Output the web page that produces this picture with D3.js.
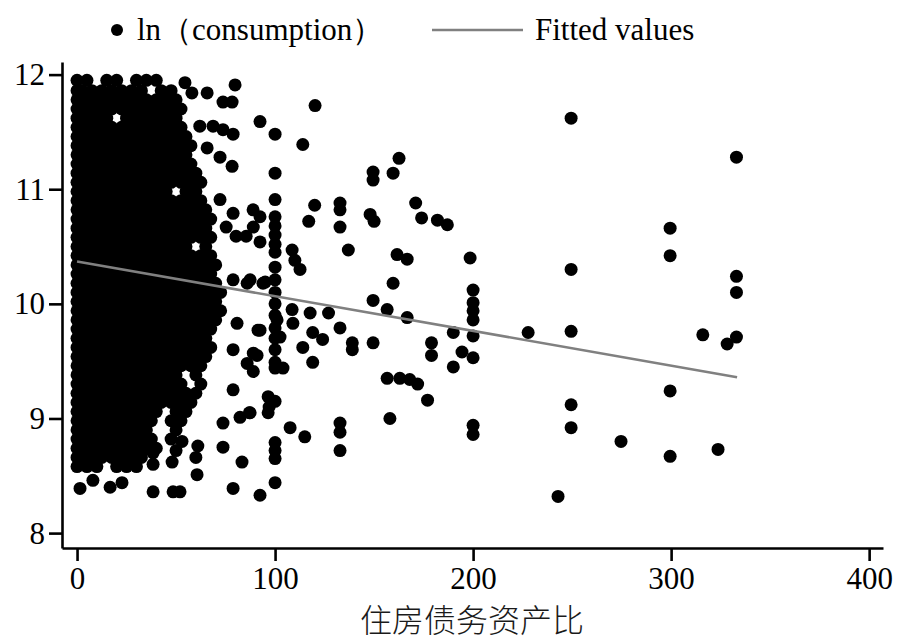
<!DOCTYPE html>
<html>
<head>
<meta charset="utf-8">
<script src="https://cdn.jsdelivr.net/npm/d3@7"></script>
<style>
  body { margin: 0; background: #fff; }
</style>
</head>
<body>
<div id="chart-area"></div>
<script>
// tick labels
const xTicks = [0, 100, 200, 300, 400]
const yTicks = [8, 9, 10, 11, 12]

// dense part of the cloud near zero: one row per ln(consumption) level, x values on that row
const denseRows = [
  [8.58, [0, 5, 10, 20, 25, 30]],
  [8.66, [0, 2.5, 7.5, 12.5, 17.5, 22.5, 27.5, 32.5]],
  [8.74, [0, 5, 10, 15, 20, 25, 30, 35, 40]],
  [8.82, [0, 2.5, 7.5, 12.5, 17.5, 22.5, 27.5, 32.5, 37.5, 47.5]],
  [8.90, [0, 5, 10, 15, 20, 25, 30, 35, 50]],
  [8.98, [0, 2.5, 7.5, 12.5, 17.5, 22.5, 27.5, 32.5, 37.5, 47.5, 52.5]],
  [9.06, [0, 5, 10, 15, 20, 25, 30, 35, 40, 50, 55]],
  [9.14, [0, 2.5, 7.5, 12.5, 17.5, 22.5, 27.5, 32.5, 37.5, 42.5, 47.5, 52.5, 57.5]],
  [9.22, [0, 5, 10, 15, 20, 25, 30, 35, 40, 45, 50, 55, 60]],
  [9.30, [0, 2.5, 7.5, 12.5, 17.5, 22.5, 27.5, 32.5, 37.5, 42.5, 47.5, 52.5, 62.5]],
  [9.38, [0, 5, 10, 15, 20, 25, 30, 35, 40, 45, 50, 60]],
  [9.46, [0, 2.5, 7.5, 12.5, 17.5, 22.5, 27.5, 32.5, 37.5, 42.5, 47.5, 52.5, 57.5, 62.5]],
  [9.54, [0, 5, 10, 15, 20, 25, 30, 35, 40, 45, 50, 55, 60, 65]],
  [9.62, [0, 2.5, 7.5, 12.5, 17.5, 22.5, 27.5, 32.5, 37.5, 42.5, 47.5, 52.5, 57.5, 62.5, 67.5]],
  [9.70, [0, 5, 10, 15, 20, 25, 30, 35, 40, 45, 50, 55, 60, 65]],
  [9.78, [0, 2.5, 7.5, 12.5, 17.5, 22.5, 27.5, 32.5, 37.5, 42.5, 47.5, 52.5, 57.5, 62.5, 67.5]],
  [9.86, [0, 5, 10, 15, 20, 25, 30, 35, 40, 45, 50, 55, 60, 65, 70]],
  [9.94, [0, 2.5, 7.5, 12.5, 17.5, 22.5, 27.5, 32.5, 37.5, 42.5, 47.5, 52.5, 57.5, 62.5, 67.5, 72.5]],
  [10.02, [0, 5, 10, 15, 20, 25, 30, 35, 40, 45, 50, 55, 60, 65, 70]],
  [10.10, [0, 2.5, 7.5, 12.5, 17.5, 22.5, 27.5, 32.5, 37.5, 42.5, 47.5, 52.5, 57.5, 62.5, 67.5, 72.5]],
  [10.18, [0, 5, 10, 15, 20, 25, 30, 35, 40, 45, 50, 55, 60, 65, 70]],
  [10.26, [0, 2.5, 7.5, 12.5, 17.5, 22.5, 27.5, 32.5, 37.5, 42.5, 47.5, 52.5, 57.5, 62.5, 67.5]],
  [10.34, [0, 5, 10, 15, 20, 25, 30, 35, 40, 45, 50, 55, 60, 65, 70]],
  [10.42, [0, 2.5, 7.5, 12.5, 17.5, 22.5, 27.5, 32.5, 37.5, 42.5, 47.5, 52.5, 57.5, 62.5, 67.5]],
  [10.50, [0, 5, 10, 15, 20, 25, 30, 35, 40, 45, 50, 55, 65]],
  [10.58, [0, 2.5, 7.5, 12.5, 17.5, 22.5, 27.5, 32.5, 37.5, 42.5, 47.5, 52.5, 57.5, 62.5, 67.5]],
  [10.66, [0, 5, 10, 15, 20, 25, 30, 35, 40, 45, 50, 55, 60, 65]],
  [10.74, [0, 2.5, 7.5, 12.5, 17.5, 22.5, 27.5, 32.5, 37.5, 42.5, 47.5, 52.5, 57.5, 62.5, 67.5]],
  [10.82, [0, 5, 10, 15, 20, 25, 30, 35, 40, 45, 50, 55, 60, 65]],
  [10.90, [0, 2.5, 7.5, 12.5, 17.5, 22.5, 27.5, 32.5, 37.5, 42.5, 47.5, 52.5, 57.5, 62.5]],
  [10.98, [0, 5, 10, 15, 20, 25, 30, 35, 40, 45, 55, 60]],
  [11.06, [0, 2.5, 7.5, 12.5, 17.5, 22.5, 27.5, 32.5, 37.5, 42.5, 47.5, 52.5, 57.5, 62.5]],
  [11.14, [0, 5, 10, 15, 20, 25, 30, 35, 40, 45, 50, 55, 60]],
  [11.22, [0, 2.5, 7.5, 12.5, 17.5, 22.5, 27.5, 32.5, 37.5, 42.5, 47.5, 52.5, 57.5]],
  [11.30, [0, 5, 10, 15, 20, 25, 30, 35, 40, 45, 50, 55]],
  [11.38, [0, 2.5, 7.5, 12.5, 17.5, 22.5, 27.5, 32.5, 37.5, 42.5, 47.5, 52.5, 57.5]],
  [11.46, [0, 5, 10, 15, 20, 25, 30, 35, 40, 45, 50, 55]],
  [11.54, [0, 2.5, 7.5, 12.5, 17.5, 22.5, 27.5, 32.5, 37.5, 42.5, 47.5, 52.5]],
  [11.62, [0, 5, 10, 15, 25, 30, 35, 40, 45, 50]],
  [11.70, [0, 2.5, 7.5, 12.5, 17.5, 22.5, 27.5, 32.5, 37.5, 42.5, 47.5, 52.5]],
  [11.78, [0, 5, 10, 15, 20, 25, 30, 35, 40, 45, 50]],
  [11.86, [0, 2.5, 7.5, 12.5, 17.5, 22.5, 27.5, 32.5, 42.5, 47.5]],
  [11.95, [0, 5, 15, 20, 30, 35, 40]]
]

// the scattered points outside the dense block, [ratio, ln(consumption)]
const sparsePoints = [
  [54.5, 11.93], [58, 11.84], [65.7, 11.84], [79.8, 11.91], [73.7, 11.76], [78.3, 11.76],
  [62, 11.55], [68.7, 11.55], [73.7, 11.52], [78.8, 11.48], [92.4, 11.59],
  [65.7, 11.36], [72.2, 11.28], [78.3, 11.20],
  [72.2, 10.91], [78.8, 10.79], [88.9, 10.82], [92.4, 10.76],
  [75.3, 10.67], [80.3, 10.59], [85.4, 10.59], [89, 10.67], [92.4, 10.54],
  [78.8, 10.21], [85.9, 10.18], [93.9, 10.18], [87.4, 10.21], [95, 10.19],
  [80.8, 9.83], [92.4, 9.77], [101, 9.86], [102.5, 9.71],
  [78.8, 9.60], [85.9, 9.48], [90.9, 9.55], [89, 9.41],
  [78.8, 9.25], [96.5, 9.19], [96.5, 9.05], [87, 9.05],
  [73.7, 8.96], [82.3, 9.01], [87.4, 9.05],
  [73.7, 8.75], [83.3, 8.62],
  [1.5, 8.39], [8, 8.46], [16.7, 8.40], [22.7, 8.44], [38.4, 8.36], [48.5, 8.36], [52, 8.36],
  [60.6, 8.51], [78.8, 8.39], [92.4, 8.33],
  [38.4, 8.60], [38.4, 8.70], [48, 8.62], [50, 8.72], [53, 8.80], [60, 8.66], [61, 8.76],
  [100, 11.48], [100, 11.14], [100, 10.91], [100, 10.76], [100, 10.68], [100, 10.60],
  [100, 10.52], [100, 10.45], [100, 10.32], [100, 10.21], [100, 10.10], [100, 10.00],
  [100, 9.90], [100, 9.79], [100, 9.70], [100, 9.60], [100, 9.49], [100, 9.44],
  [100, 9.15], [97, 9.10], [100, 8.79], [100, 8.72], [100, 8.65], [100, 8.44],
  [120.2, 11.73], [114, 11.39], [120, 10.86], [117, 10.72],
  [132.8, 10.88], [132.8, 10.82], [132.8, 10.67], [137, 10.47],
  [149.5, 11.15], [149.5, 11.08], [148, 10.78], [150, 10.72],
  [162.6, 11.27], [159.6, 11.14], [171, 10.88], [174, 10.75], [182, 10.73], [187, 10.69],
  [161.6, 10.43], [166.7, 10.39], [159.6, 10.18], [149.5, 10.03],
  [108.6, 10.47], [110, 10.38], [112.6, 10.30],
  [156.6, 9.95], [166.7, 9.88],
  [198.5, 10.40], [200, 10.12], [200, 10.01], [200, 9.94], [200, 9.86], [200, 9.72],
  [190, 9.75], [194.4, 9.58], [200, 9.53], [190, 9.45], [179, 9.66], [179, 9.55],
  [156.6, 9.35], [163, 9.35], [168, 9.34], [172, 9.30], [177, 9.16], [158, 9.00],
  [200, 8.94], [200, 8.86],
  [132.8, 8.96], [132.8, 8.88], [132.8, 8.72], [107.6, 8.92], [115, 8.84],
  [149.5, 9.66], [139, 9.66], [139, 9.60], [132.8, 9.79], [127, 9.92],
  [119, 9.75], [124, 9.69], [114, 9.62], [119, 9.49], [117.7, 9.92],
  [108.6, 9.95], [109, 9.83], [104, 9.44], [91.4, 9.77], [89, 9.57],
  [249.5, 11.62], [333, 11.28], [299.5, 10.66], [299.5, 10.42], [249.5, 10.30],
  [333, 10.24], [333, 10.10], [227.8, 9.75], [249.5, 9.76], [316, 9.73],
  [333, 9.71], [328.3, 9.65], [299.5, 9.24], [249.5, 9.12], [249.5, 8.92],
  [274.7, 8.80], [299.5, 8.67], [323.7, 8.73], [242.9, 8.32]
]

// fitted values (linear fit), end points
const fitX = [0, 333.3]
const fitY = [10.37, 9.36]

const legendLabels = ["ln（consumption）", "Fitted values"]
const xTitle = "住房债务资产比"

const points = denseRows
  .flatMap(([y, xs]) => xs.map(x => [x, y]))
  .concat(sparsePoints)

const svg = d3.select("#chart-area").append("svg")
  .attr("width", 897)
  .attr("height", 642)

const xScale = d3.scaleLinear()
  .domain([-7.6, 407])
  .range([62, 883])

const yScale = d3.scaleLinear()
  .domain([7.87, 12.11])
  .range([548, 62])

const SERIF = "'Liberation Serif', 'Times New Roman', serif"

// dots
svg.append("g").selectAll("circle")
  .data(points)
  .enter().append("circle")
  .attr("cx", d => xScale(d[0]))
  .attr("cy", d => yScale(d[1]))
  .attr("r", 6.5)
  .attr("fill", "#000")

// fitted line
const fitData = fitX.map((x, i) => [x, fitY[i]])
svg.append("path")
  .datum(fitData)
  .attr("d", d3.line().x(d => xScale(d[0])).y(d => yScale(d[1])))
  .attr("stroke", "#808080")
  .attr("stroke-width", 2.6)
  .attr("fill", "none")

// axes
const xAxis = svg.append("g")
  .attr("transform", "translate(0, 548)")
  .call(d3.axisBottom(xScale).tickValues(xTicks).tickFormat(d3.format("d"))
    .tickSize(13).tickSizeOuter(0).tickPadding(6))
const yAxis = svg.append("g")
  .attr("transform", "translate(62, 0)")
  .call(d3.axisLeft(yScale).tickValues(yTicks).tickFormat(d3.format("d"))
    .tickSize(13).tickSizeOuter(0).tickPadding(4))

for (const ax of [xAxis, yAxis]) {
  ax.selectAll("path, line").attr("stroke", "#000").attr("stroke-width", 2.6)
  ax.selectAll("text")
    .attr("fill", "#000")
    .style("font-family", SERIF)
    .style("font-size", "31px")
}

svg.append("text")
  .attr("x", 472)
  .attr("y", 632)
  .attr("text-anchor", "middle")
  .style("font-family", "'Noto Sans CJK SC', sans-serif")
  .style("font-size", "32px")
  .style("font-weight", 300)
  .attr("fill", "#1a1a1a")
  .text(xTitle)

// legend
svg.append("circle")
  .attr("cx", 117)
  .attr("cy", 30)
  .attr("r", 6)
  .attr("fill", "#000")
svg.append("text")
  .attr("x", 137)
  .attr("y", 40)
  .style("font-family", SERIF)
  .style("font-size", "31px")
  .attr("fill", "#000")
  .text(legendLabels[0])
svg.append("line")
  .attr("x1", 432).attr("x2", 523)
  .attr("y1", 30).attr("y2", 30)
  .attr("stroke", "#808080")
  .attr("stroke-width", 2.6)
svg.append("text")
  .attr("x", 535)
  .attr("y", 40)
  .style("font-family", SERIF)
  .style("font-size", "31px")
  .attr("fill", "#000")
  .text(legendLabels[1])
</script>
</body>
</html>
